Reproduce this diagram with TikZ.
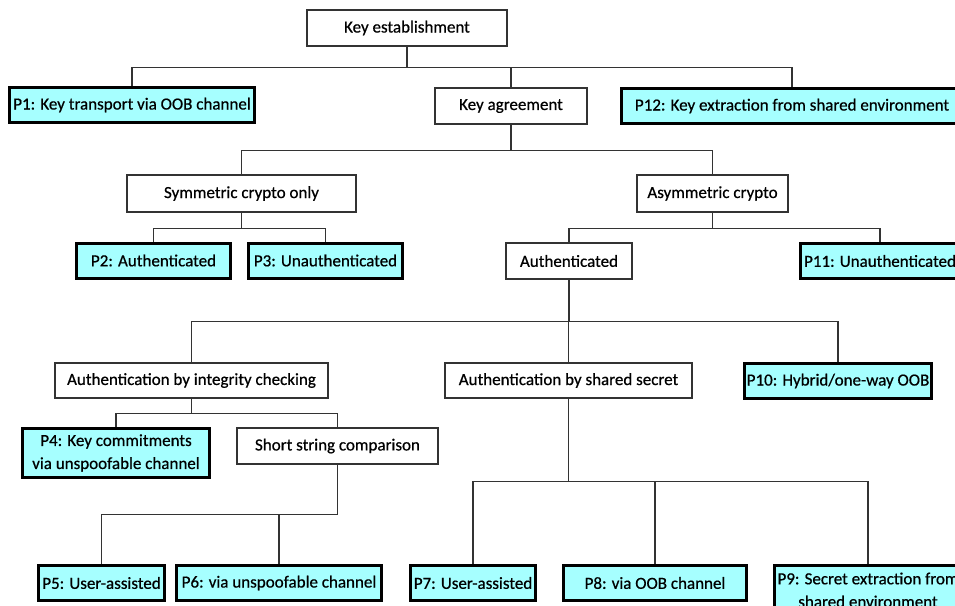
\documentclass[tikz,border=0pt]{standalone}
\usepackage{fontspec}
\setmainfont{Carlito}[FakeBold=0.6]
\usepackage{xcolor}
\definecolor{protocyan}{RGB}{166,255,255}
\definecolor{linegray}{RGB}{51,51,51}
\tikzset{
	plain/.style={draw=linegray, line width=1.2pt, fill=white, inner sep=0pt, minimum height=36},
	proto/.style={draw=black, line width=3pt, fill=protocyan, inner sep=0pt, minimum height=35, align=center},
	link/.style={draw=linegray, line width=1.2pt}
}

\begin{document}
\begin{tikzpicture}[x=1pt,y=-1pt,font=\fontsize{17}{23}\selectfont]
	\useasboundingbox (0,0) rectangle (955,605);

	\node[plain, minimum width=200] (estab) at (407,28) {Key establishment};
	\node[proto, minimum width=245] (p1) at (132,105) {P1: Key transport via OOB channel};
	\node[plain, minimum width=152] (agree) at (511,106) {Key agreement};
	\node[proto, minimum width=341] (p12) at (792,106) {P12: Key extraction from shared environment};

	\node[plain, minimum width=229, minimum height=37] (sym) at (241.5,193.5) {Symmetric crypto only};
	\node[plain, minimum width=151, minimum height=37] (asym) at (712.5,193.5) {Asymmetric crypto};

	\node[proto, minimum width=154] (p2) at (153.5,260.5) {P2: Authenticated};
	\node[proto, minimum width=154] (p3) at (325.5,260.5) {P3: Unauthenticated};
	\node[plain, minimum width=126] (auth) at (569,261) {Authenticated};
	\node[proto, minimum width=159] (p11) at (880,261) {P11: Unauthenticated};

	\node[plain, minimum width=273, minimum height=35] (integ) at (191.5,380.5) {Authentication by integrity checking};
	\node[plain, minimum width=247, minimum height=35] (shared) at (568.5,380.5) {Authentication by shared secret};
	\node[proto, minimum width=187] (p10) at (838,381) {P10: Hybrid/one-way OOB};

	\node[proto, minimum width=187, minimum height=49] (p4) at (116,453) {P4: Key commitments\\via unspoofable channel};
	\node[plain, minimum width=201] (ssc) at (337.5,446) {Short string comparison};

	\node[proto, minimum width=126] (p5) at (101.5,583) {P5: User-assisted};
	\node[proto, minimum width=205] (p6) at (279,583) {P6: via unspoofable channel};
	\node[proto, minimum width=125] (p7) at (473,583) {P7: User-assisted};
	\node[proto, minimum width=183] (p8) at (655,583) {P8: via OOB channel};
	\node[proto, minimum width=187, minimum height=49] (p9) at (868,590) {P9: Secret extraction from\\shared environment};

	\draw[link] (estab.south) -- ++(0,21) -| (p1.north);
	\draw[link] (estab.south) -- ++(0,21) -| (agree.north);
	\draw[link] (estab.south) -- ++(0,21) -| (p12.north);

	\draw[link] (agree.south) -- ++(0,26) -| (sym.north);
	\draw[link] (agree.south) -- ++(0,26) -| (asym.north);

	\draw[link] (sym.south) -- ++(0,16) -| (p2.north);
	\draw[link] (sym.south) -- ++(0,16) -| (p3.north);
	\draw[link] (asym.south) -- ++(0,16) -| (auth.north);
	\draw[link] (asym.south) -- ++(0,16) -| (p11.north);

	\draw[link] (auth.south) -- ++(0,42) -| (integ.north);
	\draw[link] (auth.south) -- ++(0,42) -| (shared.north);
	\draw[link] (auth.south) -- ++(0,42) -| (p10.north);

	\draw[link] (integ.south) -- ++(0,15) -| (p4.north);
	\draw[link] (integ.south) -- ++(0,15) -| (ssc.north);

	\draw[link] (ssc.south) -- ++(0,50) -| (p5.north);
	\draw[link] (ssc.south) -- ++(0,50) -| (p6.north);

	\draw[link] (shared.south) -- ++(0,83) -| (p7.north);
	\draw[link] (shared.south) -- ++(0,83) -| (p8.north);
	\draw[link] (shared.south) -- ++(0,83) -| (p9.north);
\end{tikzpicture}
\end{document}
